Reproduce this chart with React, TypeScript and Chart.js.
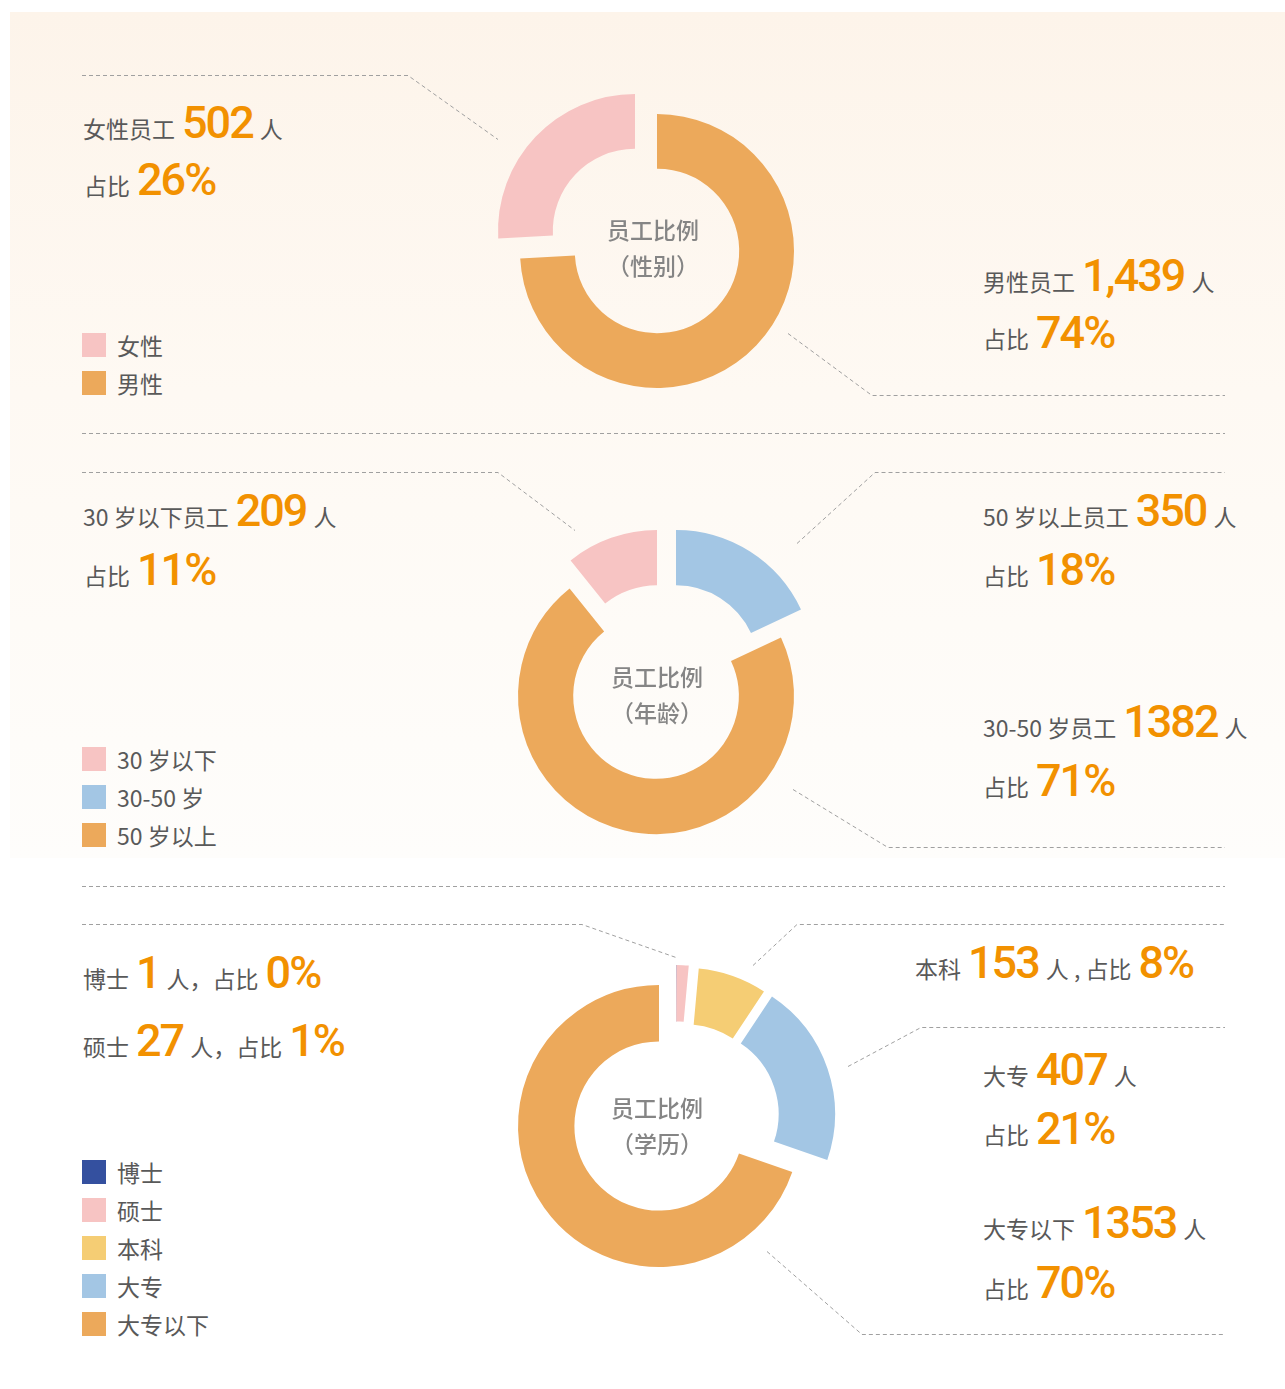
import React, { useEffect, useRef } from "react";
import { Chart, registerables } from "chart.js";

Chart.register(...registerables);

// ---------- data ----------
const ORANGE = "#eca95b";
const PINK = "#f7c4c3";
const BLUE = "#a3c6e4";
const YELLOW = "#f5cd74";
const NAVY = "#34509f";

// gender (drawn clockwise from 12 o'clock)
const genderLabels = ["男性", "女性"];
const genderValues = [1439, 502];
const genderPct = [74, 26];
const genderColors = [ORANGE, PINK];
const genderExplode = [[0, 0], [-22, -20]];

// age
const ageLabels = ["50 岁以上", "30-50 岁", "30 岁以下"];
const ageValues = [350, 1382, 209];
const agePct = [18, 71, 11];
const ageColors = [BLUE, ORANGE, PINK];
const ageExplode = [[20, -28], [0, 0], [1, -28]];

// education
const eduLabels = ["博士", "硕士", "本科", "大专", "大专以下"];
const eduValues = [1, 27, 153, 407, 1353];
const eduPct = [0, 1, 8, 21, 70];
const eduColors = [NAVY, PINK, YELLOW, BLUE, ORANGE];
const eduExplode = [[17, -20], [17, -20], [27, -17], [35, -12], [0, 0]];

// legends (as shown in the picture)
const genderLegend = ["女性", "男性"];
const genderLegendColors = [PINK, ORANGE];
const ageLegend = ["30 岁以下", "30-50 岁", "50 岁以上"];
const ageLegendColors = [PINK, BLUE, ORANGE];
const eduLegend = ["博士", "硕士", "本科", "大专", "大专以下"];
const eduLegendColors = [NAVY, PINK, YELLOW, BLUE, ORANGE];

const centerTitles = ["员工比例", "（性别）", "（年龄）", "（学历）"];

// ---------- styles ----------
const LABEL_FONT = '"Noto Sans CJK SC", "Noto Sans", sans-serif';
const NUM_FONT = 'Roboto, "DejaVu Sans", sans-serif';
const GRAY = "#595959";
const NUM_COLOR = "#f29100";

type Part = [string, boolean];

function TextLine({ x, baseline, parts }: { x: number; baseline: number; parts: Part[] }) {
  return (
    <div
      style={{
        position: "absolute",
        left: x,
        top: baseline - 40,
        display: "flex",
        alignItems: "baseline",
        whiteSpace: "pre",
      }}
    >
      {parts.map(([t, isNum], i) =>
        isNum ? (
          <span
            key={i}
            style={{
              fontFamily: NUM_FONT,
              fontWeight: 500,
              fontSize: 45,
              lineHeight: 1,
              color: NUM_COLOR,
              letterSpacing: -2,
              margin: "0 7px 0 7px",
            }}
          >
            {t}
          </span>
        ) : (
          <span
            key={i}
            style={{ fontFamily: LABEL_FONT, fontSize: 23, lineHeight: 1, color: GRAY }}
          >
            {t}
          </span>
        )
      )}
    </div>
  );
}

function Legend({ top, labels, colors }: { top: number; labels: string[]; colors: string[] }) {
  return (
    <div style={{ position: "absolute", left: 82, top }}>
      {labels.map((l, i) => (
        <div key={l} style={{ display: "flex", alignItems: "center", height: 24, marginBottom: 14 }}>
          <div style={{ width: 24, height: 24, background: colors[i] }} />
          <span
            style={{
              marginLeft: 11,
              fontFamily: LABEL_FONT,
              fontSize: 23,
              lineHeight: "24px",
              color: GRAY,
            }}
          >
            {l}
          </span>
        </div>
      ))}
    </div>
  );
}

function CenterTitle({ cx, cy, sub }: { cx: number; cy: number; sub: string }) {
  const s: React.CSSProperties = {
    fontFamily: LABEL_FONT,
    fontSize: 23,
    fontWeight: 500,
    lineHeight: "36px",
    color: "#858585",
  };
  return (
    <div style={{ position: "absolute", left: cx - 100, top: cy - 37, width: 200, textAlign: "center" }}>
      <div style={s}>{centerTitles[0]}</div>
      <div style={s}>{sub}</div>
    </div>
  );
}

function makeExplodePlugin(shifts: number[][]) {
  return {
    id: "explodeSlices",
    afterDatasetUpdate(_chart: any, args: any) {
      const arcs = args.meta.data || [];
      arcs.forEach((arc: any, i: number) => {
        const s = shifts[i];
        if (!s) return;
        arc.x += s[0];
        arc.y += s[1];
      });
    },
  };
}

function Donut({
  cx,
  cy,
  r,
  labels,
  values,
  colors,
  explode,
}: {
  cx: number;
  cy: number;
  r: number;
  labels: string[];
  values: number[];
  colors: string[];
  explode: number[][];
}) {
  const ref = useRef<HTMLCanvasElement>(null);
  const size = 2 * (r + 60);
  useEffect(() => {
    const chart = new Chart(ref.current as HTMLCanvasElement, {
      type: "doughnut",
      data: {
        labels,
        datasets: [
          {
            data: values,
            backgroundColor: colors,
            borderWidth: 0,
            hoverOffset: 0,
          } as any,
        ],
      },
      options: {
        responsive: false,
        animation: false,
        radius: r,
        cutout: "60%",
        events: [],
        layout: { padding: 0 },
        plugins: { legend: { display: false }, tooltip: { enabled: false } },
      } as any,
      plugins: [makeExplodePlugin(explode) as any],
    });
    return () => chart.destroy();
  }, []);
  return (
    <canvas
      ref={ref}
      width={size}
      height={size}
      style={{ position: "absolute", left: cx - size / 2, top: cy - size / 2, width: size, height: size }}
    />
  );
}

// dashed leader/separator polylines
const dashedPaths: number[][] = [
  [82, 75, 408, 75, 498, 139],
  [788, 333, 872, 395, 1225, 395],
  [82, 433, 1225, 433],
  [82, 472, 498, 472, 575, 530],
  [797, 543, 875, 472, 1225, 472],
  [793, 789, 888, 847, 1225, 847],
  [82, 886, 1225, 886],
  [82, 924, 582, 924, 676, 957],
  [753, 965, 797, 924, 1225, 924],
  [848, 1066, 921, 1027, 1225, 1027],
  [767, 1251, 862, 1334, 1225, 1334],
];

export default function App() {
  const fmt = (n: number) => n.toLocaleString("en-US");
  return (
    <div
      style={{
        position: "absolute",
        left: 0,
        top: 0,
        width: 1285,
        height: 1389,
        background: "#ffffff",
        overflow: "hidden",
      }}
    >
      <div
        style={{
          position: "absolute",
          left: 10,
          top: 12,
          width: 1275,
          height: 846,
          background: "linear-gradient(180deg, #fdf4ea 0%, #fef9f3 45%, #fefdfb 100%)",
        }}
      />
      <svg width={1285} height={1389} style={{ position: "absolute", left: 0, top: 0 }}>
        {dashedPaths.map((p, i) => {
          const pts: string[] = [];
          for (let k = 0; k < p.length; k += 2) pts.push(`${p[k]},${p[k + 1] + 0.5}`);
          return (
            <polyline
              key={i}
              points={pts.join(" ")}
              fill="none"
              stroke="#a0a0a0"
              strokeWidth={1}
              strokeDasharray="4 3"
            />
          );
        })}
      </svg>

      {/* charts */}
      <Donut cx={657} cy={251} r={137} labels={genderLabels} values={genderValues} colors={genderColors} explode={genderExplode} />
      <Donut cx={656} cy={696} r={138} labels={ageLabels} values={ageValues} colors={ageColors} explode={ageExplode} />
      <Donut cx={659} cy={1126} r={141} labels={eduLabels} values={eduValues} colors={eduColors} explode={eduExplode} />

      <CenterTitle cx={653} cy={248} sub={centerTitles[1]} />
      <CenterTitle cx={657} cy={695} sub={centerTitles[2]} />
      <CenterTitle cx={657} cy={1126} sub={centerTitles[3]} />

      {/* gender annotations */}
      <TextLine x={83} baseline={140} parts={[[genderLabels[1] + "员工", false], [fmt(genderValues[1]), true], ["人", false]]} />
      <TextLine x={84} baseline={197} parts={[["占比", false], [genderPct[1] + "%", true]]} />
      <TextLine x={983} baseline={293} parts={[[genderLabels[0] + "员工", false], [fmt(genderValues[0]), true], ["人", false]]} />
      <TextLine x={983} baseline={350} parts={[["占比", false], [genderPct[0] + "%", true]]} />

      {/* age annotations */}
      <TextLine x={83} baseline={528} parts={[[ageLabels[2] + "员工", false], [String(ageValues[2]), true], ["人", false]]} />
      <TextLine x={84} baseline={587} parts={[["占比", false], [agePct[2] + "%", true]]} />
      <TextLine x={983} baseline={528} parts={[[ageLabels[0] + "员工", false], [String(ageValues[0]), true], ["人", false]]} />
      <TextLine x={983} baseline={587} parts={[["占比", false], [agePct[0] + "%", true]]} />
      <TextLine x={983} baseline={739} parts={[[ageLabels[1] + "员工", false], [String(ageValues[1]), true], ["人", false]]} />
      <TextLine x={983} baseline={798} parts={[["占比", false], [agePct[1] + "%", true]]} />

      {/* education annotations */}
      <TextLine x={83} baseline={990} parts={[[eduLabels[0], false], [String(eduValues[0]), true], ["人，占比", false], [eduPct[0] + "%", true]]} />
      <TextLine x={83} baseline={1058} parts={[[eduLabels[1], false], [String(eduValues[1]), true], ["人，占比", false], [eduPct[1] + "%", true]]} />
      <TextLine x={915} baseline={980} parts={[[eduLabels[2], false], [String(eduValues[2]), true], ["人 , 占比", false], [eduPct[2] + "%", true]]} />
      <TextLine x={983} baseline={1087} parts={[[eduLabels[3], false], [String(eduValues[3]), true], ["人", false]]} />
      <TextLine x={983} baseline={1146} parts={[["占比", false], [eduPct[3] + "%", true]]} />
      <TextLine x={983} baseline={1240} parts={[[eduLabels[4], false], [String(eduValues[4]), true], ["人", false]]} />
      <TextLine x={983} baseline={1300} parts={[["占比", false], [eduPct[4] + "%", true]]} />

      {/* legends */}
      <Legend top={333} labels={genderLegend} colors={genderLegendColors} />
      <Legend top={747} labels={ageLegend} colors={ageLegendColors} />
      <Legend top={1160} labels={eduLegend} colors={eduLegendColors} />
    </div>
  );
}
